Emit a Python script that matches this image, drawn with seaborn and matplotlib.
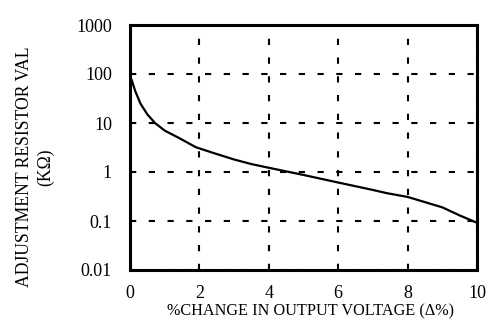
import matplotlib
matplotlib.use("Agg")
import matplotlib.pyplot as plt
import seaborn as sns
import pandas as pd
from matplotlib.ticker import FixedLocator, FixedFormatter, NullLocator

pct_change = [0, 0.05, 0.15, 0.3, 0.5, 0.72, 1.0, 1.4, 1.9, 2.4, 3.0, 3.5, 4.0, 5.0, 6.0, 7.0, 7.4, 8.0, 9.0, 9.5, 10]
resistor_kohm = [85, 75, 45, 25, 15, 10, 7.0, 5.0, 3.2, 2.45, 1.8, 1.45, 1.22, 0.87, 0.61, 0.43, 0.37, 0.31, 0.19, 0.13, 0.092]
x_ticks = [0, 2, 4, 6, 8, 10]
y_ticks = [0.01, 0.1, 1, 10, 100, 1000]
y_tick_labels = ["0.01", "0.1", "1", "10", "100", "1000"]

sns.set_theme(style="white")
plt.rcParams['font.family'] = ['Liberation Serif', 'DejaVu Serif']

df = pd.DataFrame({"x": pct_change, "y": resistor_kohm})

fig = plt.figure(figsize=(4.86, 3.24), dpi=100)
ax = fig.add_axes([130 / 486, 1 - 270 / 324, 347 / 486, 245 / 324])
sns.lineplot(data=df, x="x", y="y", ax=ax, color="black", linewidth=1.6)
ax.set_yscale("log")
ax.set_xlim(0, 10)
ax.set_ylim(0.01, 1000)
ax.xaxis.set_major_locator(FixedLocator(x_ticks))
ax.yaxis.set_major_locator(FixedLocator(y_ticks))
ax.yaxis.set_major_formatter(FixedFormatter(y_tick_labels))
ax.yaxis.set_minor_locator(NullLocator())
ax.grid(True, which="major", color="black", linestyle=(0, (3, 6)), linewidth=1.5)
for s in ax.spines.values():
    s.set_color("black")
    s.set_linewidth(2.2)
ax.tick_params(axis="y", labelsize=13, colors="black", length=0, pad=13)
ax.tick_params(axis="x", labelsize=13, colors="black", length=0, pad=11)
ax.set_xlabel("%CHANGE IN OUTPUT VOLTAGE (\u0394%)", fontsize=11.7, color="black", labelpad=3)
ax.set_ylabel("ADJUSTMENT RESISTOR VAL\n(K\u03a9)", fontsize=12.7, color="black", linespacing=1.3)
ax.yaxis.set_label_coords(-0.218, 0.42)
ax.xaxis.set_label_coords(0.519, -0.135)
fig.savefig("out.png", dpi=100)
